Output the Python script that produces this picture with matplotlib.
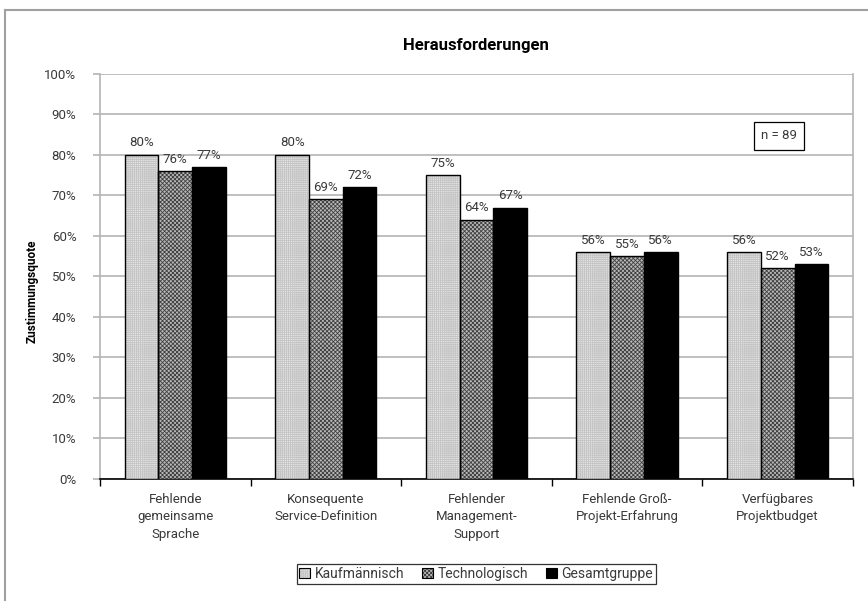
import matplotlib.pyplot as plt
import numpy as np

plt.rcParams['font.family'] = ['Roboto', 'DejaVu Sans']
plt.rcParams['hatch.linewidth'] = 0.6

categories = ["Fehlende\ngemeinsame\nSprache",
              "Konsequente\nService-Definition",
              "Fehlender\nManagement-\nSupport",
              "Fehlende Groß-\nProjekt-Erfahrung",
              "Verfügbares\nProjektbudget"]
kaufmaennisch = [80, 80, 75, 56, 56]
technologisch = [76, 69, 64, 55, 52]
gesamt = [77, 72, 67, 56, 53]
series_names = ["Kaufmännisch", "Technologisch", "Gesamtgruppe"]

text_col = '#3a3a3a'
grid_col = '#b4b4b4'

fig = plt.figure(figsize=(8.68, 6.01), dpi=100)
ax = fig.add_axes([0.1152, 0.203, 0.8675, 0.674])

x = np.arange(len(categories))
w = 0.224
# fill colour, hatch pattern, hatch colour
styles = [('#e6e6e6', '++++++++', '#c4c4c4'),
          ('#b8b8b8', 'xxxxxxxx', '#404040'),
          ('black', None, 'black')]
handles = []
for i, (vals, (fc, hatch, hc)) in enumerate(zip([kaufmaennisch, technologisch, gesamt], styles)):
    # hatched fill first, then a plain black outline on top
    ax.bar(x + (i - 1) * w, vals, w, facecolor=fc, hatch=hatch, edgecolor=hc,
           linewidth=0, zorder=3)
    bars = ax.bar(x + (i - 1) * w, vals, w, facecolor='none', edgecolor='black',
                  linewidth=1.0, zorder=3.5)
    for b, v in zip(bars, vals):
        ax.annotate("%d%%" % v, (b.get_x() + b.get_width() / 2, v),
                    xytext=(0, 4), textcoords='offset points', ha='center',
                    va='bottom', fontsize=9.5, color=text_col, zorder=4)
    fill = plt.Rectangle((0, 0), 1, 1, facecolor=fc, hatch=hatch, edgecolor=hc, linewidth=0)
    outline = plt.Rectangle((0, 0), 1, 1, facecolor='none', edgecolor='black', linewidth=0.8)
    handles.append((fill, outline))

ax.set_xlim(-0.5, len(categories) - 0.5)
ax.set_ylim(0, 100)
ax.set_yticks(range(0, 101, 10))
ax.set_yticklabels(["%d%%" % t for t in range(0, 101, 10)])
ax.yaxis.grid(True, color=grid_col, linewidth=1.2, zorder=0)
ax.tick_params(axis='y', colors=grid_col, labelcolor=text_col, labelsize=9.5,
               length=5, width=1.2, pad=12)

# category labels sit between the boundary ticks
ax.set_xticks(np.arange(len(categories) + 1) - 0.5)
ax.set_xticklabels([])
ax.set_xticks(x, minor=True)
ax.set_xticklabels(categories, minor=True, fontsize=9.5, color=text_col, linespacing=1.45)
ax.tick_params(axis='x', which='major', length=5, width=1.0, color='black')
ax.tick_params(axis='x', which='minor', length=0, pad=10)

for s in ['left', 'right']:
    ax.spines[s].set_color(grid_col)
    ax.spines[s].set_linewidth(1.2)
ax.spines['top'].set_visible(False)
ax.spines['bottom'].set_color('black')
ax.spines['bottom'].set_linewidth(1.2)

ax.text(0.902, 84.7, "n = 89", transform=ax.get_yaxis_transform(), ha='center',
        va='center', fontsize=9.5, color=text_col, zorder=5,
        bbox=dict(boxstyle='square,pad=0.55', facecolor='white', edgecolor='black',
                  linewidth=0.9))

fig.text(0.5485, 0.925, "Herausforderungen", ha='center', va='center',
         fontsize=12, fontweight='bold', color='black')
fig.text(0.037, 0.516, "Zustimmungsquote", ha='center', va='center', rotation=90,
         fontsize=8.5, fontweight='bold', color='black')

leg = fig.legend(handles=handles, labels=series_names, loc='center',
                 bbox_to_anchor=(0.5485, 0.045), ncol=3,
                 fontsize=10, frameon=True, fancybox=False, edgecolor='black',
                 handlelength=0.8, handleheight=0.8, handletextpad=0.3,
                 columnspacing=1.3, borderpad=0.2)
leg.get_frame().set_linewidth(0.9)
for t in leg.get_texts():
    t.set_color(text_col)

# outer frame (left and top edges)
fig.add_artist(plt.Line2D([5 / 868, 5 / 868], [0, 1 - 10 / 601], color='#a0a0a0', lw=1.5))
fig.add_artist(plt.Line2D([5 / 868, 1], [1 - 10 / 601, 1 - 10 / 601], color='#a0a0a0', lw=1.5))

fig.savefig("out.png", dpi=100)
